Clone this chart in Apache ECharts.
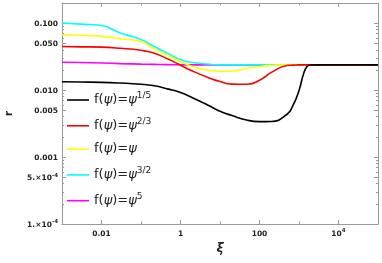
<!DOCTYPE html>
<html><head><meta charset="utf-8">
<script src="https://cdn.jsdelivr.net/npm/echarts@6/dist/echarts.min.js"></script>
<style>html,body{margin:0;padding:0;background:#fff}#c{width:382px;height:263px}</style>
</head><body><div id="c"></div>
<script>
// ξ sample points shared by all curves
const xi = [0.001, 0.003, 0.01, 0.03, 0.1, 0.2, 0.5, 1, 2, 5, 10, 20, 50, 100, 200, 500, 700, 1000, 1300, 1600, 2000, 3000, 100000];
const rPow1_5 = [0.01333, 0.01319, 0.01306, 0.01274, 0.01222, 0.01169, 0.01035, 0.00923, 0.00771, 0.00595, 0.00483, 0.00417, 0.00354, 0.00338, 0.00340, 0.00436, 0.00585, 0.00983, 0.0174, 0.0225, 0.0237, 0.0238, 0.0238];
const rPow2_3 = [0.0448, 0.0443, 0.0438, 0.0421, 0.0393, 0.0360, 0.0288, 0.0235, 0.0193, 0.0154, 0.0134, 0.0123, 0.0122, 0.0140, 0.0184, 0.0233, 0.0236, 0.0238, 0.0238, 0.0238, 0.0238, 0.0238, 0.0238];
const rPow1   = [0.0671, 0.0660, 0.0634, 0.0585, 0.0532, 0.0424, 0.0324, 0.0267, 0.0225, 0.0198, 0.0191, 0.0193, 0.0212, 0.0225, 0.0234, 0.0238, 0.0238, 0.0238, 0.0238, 0.0238, 0.0238, 0.0238, 0.0238];
const rPow3_2 = [0.1007, 0.0966, 0.0920, 0.0715, 0.0570, 0.0459, 0.0348, 0.0283, 0.0259, 0.0244, 0.0238, 0.0238, 0.0238, 0.0238, 0.0238, 0.0238, 0.0238, 0.0238, 0.0238, 0.0238, 0.0238, 0.0238, 0.0238];
const rPow5   = [0.0261, 0.0258, 0.0254, 0.0249, 0.0244, 0.0242, 0.0240, 0.0239, 0.0238, 0.0238, 0.0238, 0.0238, 0.0238, 0.0238, 0.0238, 0.0238, 0.0238, 0.0238, 0.0238, 0.0238, 0.0238, 0.0238, 0.0238];

const seriesNames = ['f(ψ)=ψ^1/5', 'f(ψ)=ψ^2/3', 'f(ψ)=ψ', 'f(ψ)=ψ^3/2', 'f(ψ)=ψ^5'];
const seriesColors = ['#000000', '#ff0000', '#ffff00', '#00ffff', '#ff00ff'];
const seriesValues = [rPow1_5, rPow2_3, rPow1, rPow3_2, rPow5];

const xTickValues = [0.01, 1, 100, 10000];
const xTickLabels = ['0.01', '1', '100', '10^4'];
const xMinorTicks = [0.1, 10, 1000];
const yTickValues = [1e-4, 5e-4, 0.001, 0.005, 0.01, 0.05, 0.1];
const yTickLabels = ['1.×10^-4', '5.×10^-4', '0.001', '0.005', '0.010', '0.050', '0.100'];
const yMinorTicks = [2e-4, 3e-4, 4e-4, 6e-4, 7e-4, 8e-4, 9e-4,
  0.002, 0.003, 0.004, 0.006, 0.007, 0.008, 0.009,
  0.02, 0.03, 0.04, 0.06, 0.07, 0.08, 0.09, 0.2];

const FONT = 'DejaVu Sans';
const frameColor = '#9a9a9a';

function supRich(label) {
  const p = label.split('^');
  return p.length > 1 ? '{b|' + p[0] + '}{s|' + p[1] + '}' : '{b|' + p[0] + '}';
}
function lookup(vals, labels, v) {
  const i = vals.findIndex(t => Math.abs(t - v) / t < 1e-6);
  return i < 0 ? '' : supRich(labels[i]);
}
const tickRich = {
  b: { fontFamily: FONT, fontWeight: 'bold', fontSize: 7.5, color: '#222', lineHeight: 10, verticalAlign: 'bottom' },
  s: { fontFamily: FONT, fontWeight: 'bold', fontSize: 5.5, color: '#222', lineHeight: 7, verticalAlign: 'top' }
};

function legendRich(name) {
  const p = name.split('^');
  const base = p[0].split('ψ').map(s => s ? '{n|' + s + '}' : '').join('{i|ψ}');
  return base + (p[1] ? '{s|' + p[1] + '}' : '');
}

function axisX(pos, ticks, len, showLine, labels) {
  return {
    type: 'log', logBase: 10, min: 0.001, max: 100000, position: pos,
    axisLine: { show: showLine, onZero: false, lineStyle: { color: frameColor, width: 1 } },
    axisTick: { show: true, inside: true, length: len, customValues: ticks, lineStyle: { color: frameColor } },
    axisLabel: labels ? {
      show: true, customValues: xTickValues, margin: 4,
      formatter: v => lookup(xTickValues, xTickLabels, v), rich: tickRich
    } : { show: false },
    splitLine: { show: false }, minorTick: { show: false }, minorSplitLine: { show: false }
  };
}
function axisY(pos, ticks, len, showLine, labels) {
  return {
    type: 'log', logBase: 10, min: 1e-4, max: 0.2, position: pos,
    axisLine: { show: showLine, onZero: false, lineStyle: { color: frameColor, width: 1 } },
    axisTick: { show: true, inside: true, length: len, customValues: ticks, lineStyle: { color: frameColor } },
    axisLabel: labels ? {
      show: true, customValues: yTickValues, margin: 4,
      formatter: v => lookup(yTickValues, yTickLabels, v), rich: tickRich
    } : { show: false },
    splitLine: { show: false }, minorTick: { show: false }, minorSplitLine: { show: false }
  };
}

const xAxes = [
  Object.assign(axisX('bottom', xTickValues, 4, true, true), {
    name: 'ξ', nameLocation: 'middle', nameGap: 14,
    nameTextStyle: { fontFamily: FONT, fontSize: 12, fontWeight: 'bold', fontStyle: 'italic', color: '#222' }
  }),
  axisX('bottom', xMinorTicks, 2.5, false, false),
  axisX('top', xTickValues, 4, true, false),
  axisX('top', xMinorTicks, 2.5, false, false)
];
const yAxes = [
  Object.assign(axisY('left', yTickValues, 4, true, true), {
    name: 'r', nameLocation: 'middle', nameGap: 48,
    nameTextStyle: { fontFamily: FONT, fontSize: 10, fontWeight: 'bold', color: '#222' }
  }),
  axisY('left', yMinorTicks, 2, false, false),
  axisY('right', yTickValues, 4, true, false),
  axisY('right', yMinorTicks, 2, false, false)
];

// draw order: magenta first, black last (on top)
const series = [];
for (let k = seriesNames.length - 1; k >= 0; k--) {
  series.push({
    name: seriesNames[k], type: 'line', smooth: 0.5, showSymbol: false, symbol: 'none',
    xAxisIndex: 0, yAxisIndex: 0,
    lineStyle: { color: seriesColors[k], width: 1.6 },
    itemStyle: { color: seriesColors[k] },
    data: xi.map((x, j) => [x, seriesValues[k][j]])
  });
}

const chart = echarts.init(document.getElementById('c'), null, { renderer: 'canvas' });
chart.setOption({
  animation: false,
  backgroundColor: '#ffffff',
  grid: { left: 62, right: 4, top: 3, bottom: 39, containLabel: false, outerBoundsMode: 'none' },
  legend: {
    data: seriesNames, orient: 'vertical', left: 67, top: 91, padding: 0,
    itemWidth: 22, itemHeight: 1.6, itemGap: 10.3, icon: 'rect',
    formatter: legendRich,
    textStyle: {
      rich: {
        n: { fontFamily: FONT, fontSize: 13, color: '#222', lineHeight: 18 },
        i: { fontFamily: FONT, fontSize: 13, fontStyle: 'italic', color: '#222', lineHeight: 18 },
        s: { fontFamily: FONT, fontSize: 9, color: '#222', lineHeight: 9, verticalAlign: 'top' }
      }
    }
  },
  xAxis: xAxes,
  yAxis: yAxes,
  series: series
});
</script>
</body></html>
